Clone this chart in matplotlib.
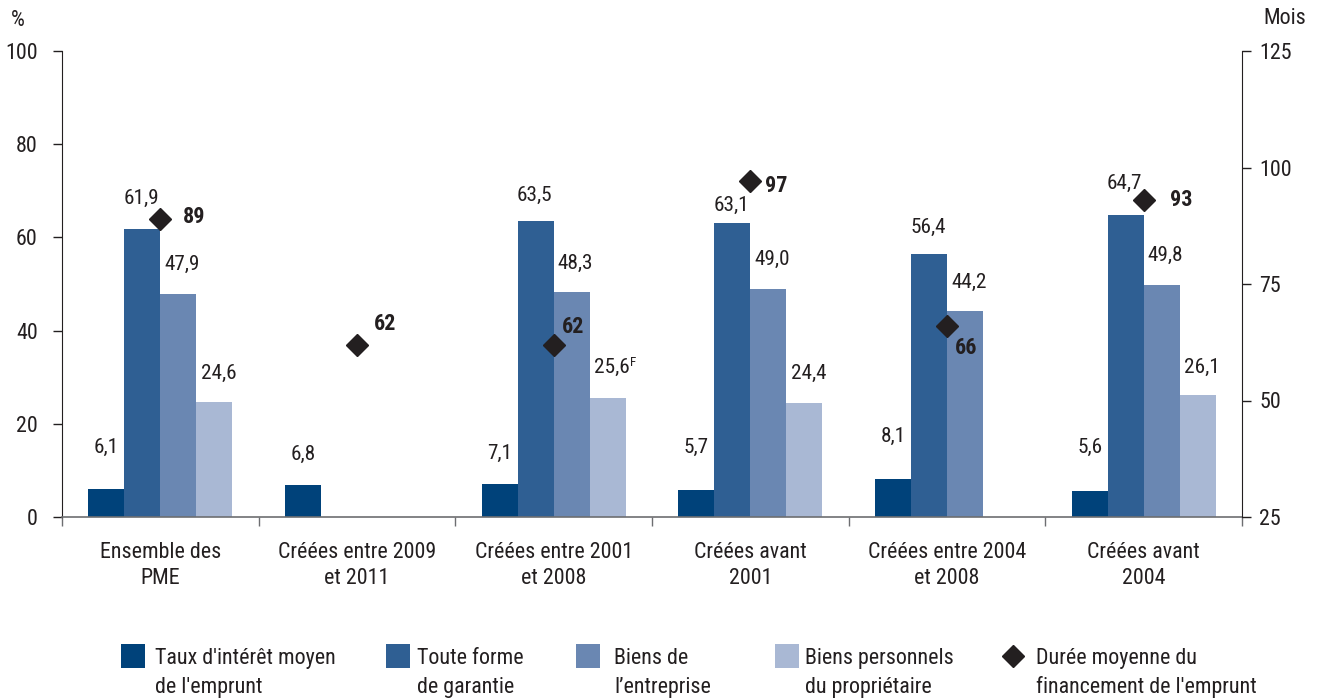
import numpy as np
import matplotlib
matplotlib.use("Agg")
import matplotlib.pyplot as plt
import matplotlib.font_manager as fm
from matplotlib.font_manager import FontProperties
from matplotlib.patches import Rectangle
from matplotlib.lines import Line2D

# ---------------- font choice: a plain sans face (narrow if installed) closest to the reference width ----------------
_bases = ["DejaVu Sans", "Liberation Sans", "Noto Sans", "Roboto", "Open Sans", "Lato", "Inter",
          "Arial", "Nimbus Sans", "Helvetica"]
_width_words = {"Narrow", "Condensed", "SemiCondensed", "ExtraCondensed", "Cond", "Semi",
                "Extra", "Light"}


def _allowed(name):
    for b in _bases:
        if name == b:
            return True
        if name.startswith(b + " "):
            rest = name[len(b) + 1:].split()
            if rest and all(r in _width_words for r in rest) and "Light" not in rest:
                return True
    return False


def _w(v):
    try:
        return int(v)
    except Exception:
        return {"normal": 400, "regular": 400, "bold": 700}.get(str(v), 400)


_entries = [f for f in fm.fontManager.ttflist if f.style == "normal" and _allowed(f.name)]
_bold_ok = {(f.name, str(f.stretch)) for f in _entries if _w(f.weight) >= 600}
_pairs = sorted({(f.name, str(f.stretch)) for f in _entries if 350 <= _w(f.weight) <= 450})
_probe_fig = plt.figure(figsize=(4, 2), dpi=100)
_rend = _probe_fig.canvas.get_renderer()
_target = 153.0  # px width of "Créées entre 2009" in the reference
_best = None
for _name, _st in _pairs:
    if (_name, _st) not in _bold_ok:
        continue
    try:
        _fp = FontProperties(family=_name, stretch=_st, size=17)
        _wd, _h, _d = _rend.get_text_width_height_descent("Créées entre 2009", _fp, ismath=False)
    except Exception:
        continue
    _score = abs(_wd - _target)
    if _best is None or _score < _best[0]:
        _best = (_score, _name, _st, _wd)
plt.close(_probe_fig)
if _best is None:
    _best = (0, "DejaVu Sans", "normal", 200.0)
FAMILY, STRETCH, W17 = _best[1], _best[2], _best[3]
FS = float(np.clip(17 * (_target / W17) ** 0.7, 14.0, 17.5))
plt.rcParams['font.family'] = [FAMILY, 'DejaVu Sans']
plt.rcParams['font.stretch'] = STRETCH

# ---------------- data ----------------
categories = ["Ensemble des\nPME", "Créées entre 2009\net 2011", "Créées entre 2001\net 2008",
              "Créées avant\n2001", "Créées entre 2004\net 2008", "Créées avant\n2004"]
taux = [6.1, 6.8, 7.1, 5.7, 8.1, 5.6]
toute_forme = [61.9, np.nan, 63.5, 63.1, 56.4, 64.7]
biens_entreprise = [47.9, np.nan, 48.3, 49.0, 44.2, 49.8]
biens_personnels = [24.6, np.nan, 25.6, 24.4, np.nan, 26.1]
duree = [89, 62, 62, 97, 66, 93]
bar_label_flags = [["", "", "", "", "", ""], ["", "", "", "", "", ""],
                   ["", "", "", "", "", ""], ["", "", "F", "", "", ""]]
series_names = ["Taux d'intérêt moyen\nde l'emprunt", "Toute forme\nde garantie",
                "Biens de\nl’entreprise", "Biens personnels\ndu propriétaire"]
duree_name = "Durée moyenne du\nfinancement de l'emprunt"

# ---------------- styles / layout ----------------
colors = ["#00427a", "#2f5f93", "#6a87b2", "#a9b8d4"]
diamond_color = "#231f20"
text_color = "#231f20"
W, H = 1320, 700
# label offsets (pixels above bar top, label center)
label_dy = [[41, 31, 31, 43, 43, 44],
            [30, 0, 26, 18, 27, 32],
            [29, 0, 29, 29, 29, 30],
            [29, 0, 30, 30, 0, 28]]
label_dx = [0, -1, 4, 4]
# duree label offsets (pixels: dx to left edge, dy up)
duree_dx = [23, 17, 8, 15, 8, 26]
duree_dy = [2, 21, 18, -5, -22, 0]

px2pt = 72 / 100

fig = plt.figure(figsize=(W / 100, H / 100), dpi=100)
ax = fig.add_axes([62 / W, 1 - 517 / H, (1242 - 62) / W, (517 - 51) / H])
ax2 = ax.twinx()

n = len(categories)
centers = np.arange(n) + 0.5
bw = 36 / ((1242 - 62) / n)
series = [taux, toute_forme, biens_entreprise, biens_personnels]
offs = [-1.5, -0.5, 0.5, 1.5]
for si, (vals, col, off) in enumerate(zip(series, colors, offs)):
    xs = centers + off * bw
    ax.bar(xs, vals, width=bw, color=col, linewidth=0, zorder=2)
    for ci, v in enumerate(vals):
        if np.isnan(v):
            continue
        lbl = f"{v:.1f}".replace(".", ",")
        t = ax.annotate(lbl, xy=(xs[ci], v), xytext=(label_dx[si] * px2pt, label_dy[si][ci] * px2pt),
                        textcoords="offset points", ha="center", va="center",
                        fontsize=FS * 0.97, color=text_color, zorder=5)
        flag = bar_label_flags[si][ci]
        if flag:
            ax.annotate(flag, xy=(1.0, 0.78), xycoords=t, ha="left", va="center",
                        fontsize=FS * 0.6, color=text_color, zorder=5)

ax.set_xlim(0, n)
ax.set_ylim(0, 100)
ax.set_yticks(np.arange(0, 101, 20))
ax.set_xticks(np.arange(0, n + 1))
ax.set_xticklabels([])
ax.set_xticks(centers, minor=True)
ax.set_xticklabels(categories, minor=True, fontsize=FS, color=text_color, linespacing=1.32)
ax.tick_params(axis="x", which="major", direction="out", length=9 * px2pt, width=1, color="#6d6e71")
ax.tick_params(axis="x", which="minor", length=0, pad=18)
ax.tick_params(axis="y", direction="out", length=9 * px2pt, width=1, color=text_color,
               labelsize=FS, labelcolor=text_color, pad=11)
for s in ["top", "right"]:
    ax.spines[s].set_visible(False)
ax.spines["left"].set_color(text_color)
ax.spines["bottom"].set_color("#6d6e71")
ax.spines["bottom"].set_linewidth(1.2)

ax2.set_ylim(25, 125)
ax2.set_yticks([25, 50, 75, 100, 125])
ax2.plot(centers, duree, linestyle="none", marker="D", markersize=11.7,
         color=diamond_color, zorder=6)
for ci, v in enumerate(duree):
    ax2.annotate(str(v), xy=(centers[ci], v), xytext=(duree_dx[ci] * px2pt, duree_dy[ci] * px2pt),
                 textcoords="offset points", ha="left", va="center",
                 fontsize=FS, fontweight="bold", color=text_color, zorder=7)
for s in ["top", "left", "bottom"]:
    ax2.spines[s].set_visible(False)
ax2.spines["right"].set_color(text_color)
ax2.tick_params(axis="y", direction="out", length=9 * px2pt, width=1, color=text_color,
                labelsize=FS, labelcolor=text_color, pad=6)

fig.text(18 / W, 1 - 20 / H, "%", ha="center", va="center", fontsize=FS, color=text_color)
fig.text(1285 / W, 1 - 18 / H, "Mois", ha="center", va="center", fontsize=FS, color=text_color)

# ---------------- legend (manual) ----------------
sq_x = [121, 386, 576, 775]
txt_x = [155, 417, 614, 805]
for x0, tx, col, name in zip(sq_x, txt_x, colors, series_names):
    fig.add_artist(Rectangle((x0 / W, 1 - 668 / H), 24 / W, 24 / H, transform=fig.transFigure,
                             facecolor=col, edgecolor="none"))
    l1, l2 = name.split("\n")
    fig.text(tx / W, 1 - 664 / H, l1, ha="left", va="baseline", fontsize=FS, color=text_color)
    fig.text(tx / W, 1 - 693 / H, l2, ha="left", va="baseline", fontsize=FS, color=text_color)
fig.add_artist(Line2D([1013 / W], [1 - 656 / H], transform=fig.transFigure, marker="D",
                      markersize=11.7, color=diamond_color, linestyle="none"))
l1, l2 = duree_name.split("\n")
fig.text(1036 / W, 1 - 664 / H, l1, ha="left", va="baseline", fontsize=FS, color=text_color)
fig.text(1036 / W, 1 - 693 / H, l2, ha="left", va="baseline", fontsize=FS, color=text_color)

fig.savefig("out.png", dpi=100)
